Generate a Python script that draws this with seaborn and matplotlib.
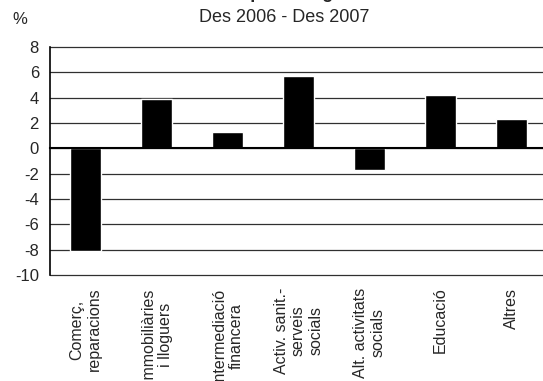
import pandas as pd
import numpy as np
import matplotlib
matplotlib.use("Agg")
import matplotlib.pyplot as plt
import matplotlib.transforms as mtransforms
import seaborn as sns

# Data
categories = [
    "Comerç,\nreparacions",
    "Immobiliàries\ni lloguers",
    "Intermediació\nfinancera",
    "Activ. sanit.-\nserveis\nsocials",
    "Alt. activitats\nsocials",
    "Educació",
    "Altres",
]
values = [-8.1, 3.9, 1.25, 5.7, -1.7, 4.2, 2.3]
y_ticks = [8, 6, 4, 2, 0, -2, -4, -6, -8, -10]

df = pd.DataFrame({"sector": categories, "pct": values})

sns.set_style("white")
plt.rcParams["font.family"] = ["Liberation Sans", "DejaVu Sans"]
plt.rcParams["font.size"] = 12

fig = plt.figure(figsize=(5.43, 3.81), dpi=100)
ax = fig.add_axes([0.0921, 0.278, 0.915, 0.599])

sns.barplot(data=df, x="sector", y="pct", color="black", width=0.43,
            saturation=1, ax=ax, zorder=3)

ax.set_ylim(-10, 8)
ax.set_xlim(-0.5, len(categories) - 0.5)
ax.set_yticks(y_ticks)
ax.set_yticklabels([str(v) for v in y_ticks])
ax.yaxis.grid(True, color="#303030", linewidth=0.9, zorder=0)
for gl in ax.get_ygridlines():
    gl.set_clip_on(False)
ax.tick_params(axis="y", length=5, width=0.9, color="black", pad=3, labelsize=12)

# x axis crosses at zero, tick marks between categories
for side in ["top", "right"]:
    ax.spines[side].set_visible(False)
ax.spines["left"].set_color("black")
ax.spines["left"].set_linewidth(1.2)
ax.spines["bottom"].set_position(("data", 0))
ax.spines["bottom"].set_color("black")
ax.spines["bottom"].set_linewidth(1.5)
ax.spines["bottom"].set_zorder(4)
ax.set_xticks(np.arange(0.5, len(categories) - 0.5, 1))
ax.set_xticklabels([])
ax.tick_params(axis="x", length=4, width=1, color="black", direction="out")
ax.set_xlabel("")
ax.set_ylabel("")

# category labels below the plot area
trans = mtransforms.blended_transform_factory(ax.transData, ax.transAxes)
for i, lab in enumerate(categories):
    ax.text(i, -0.055, lab, transform=trans, rotation=90, ha="center", va="top",
            multialignment="center", linespacing=1.2, fontsize=11.5)

# titles (the first title line is cut off at the top in the reference)
fig.text(0.53, 1.004, "Variació de l'ocupació segons subsectors",
         ha="center", va="baseline", fontsize=13, fontweight="bold")
fig.text(0.523, 0.953, "Des 2006 - Des 2007", ha="center", va="center", fontsize=13)
fig.text(0.037, 0.95, "%", ha="center", va="center", fontsize=12)

fig.savefig("out.png", dpi=100)
